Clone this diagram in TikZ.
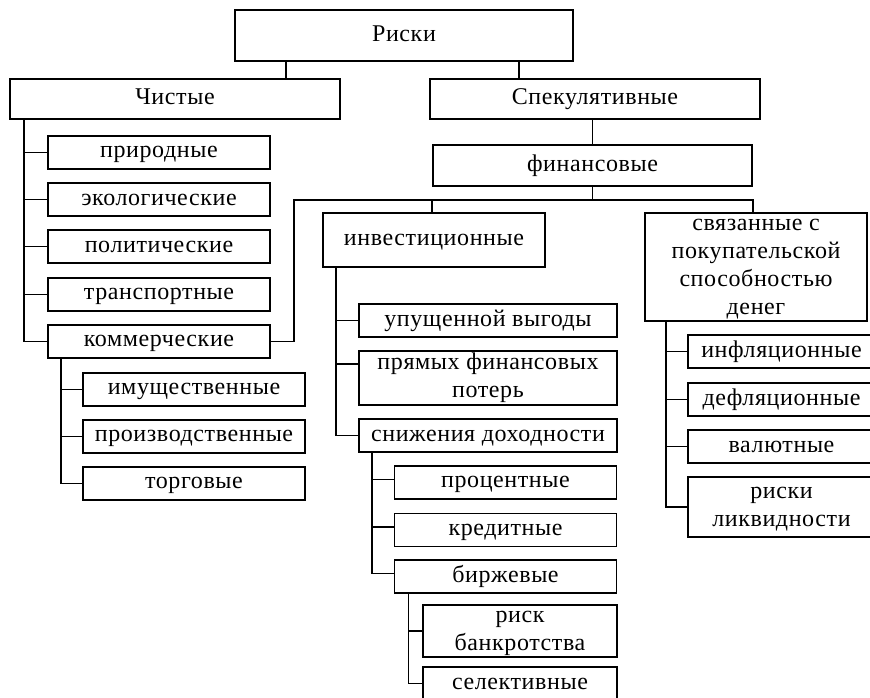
\documentclass[tikz,border=0pt]{standalone}
\usepackage{fontspec}
\setmainfont[LetterSpace=2.5]{Liberation Serif}
\usetikzlibrary{calc}
\newcommand{\wstrut}{\rule[-5pt]{0pt}{21pt}}

\begin{document}
\begin{tikzpicture}[x=1pt,y=-1pt,
 box/.style={draw,line width=1.8pt,inner sep=0pt,align=center,font=\fontsize{24}{28}\selectfont},
 main/.style={box,minimum width=330pt,minimum height=40pt},
 leaf/.style={box,minimum width=222pt,minimum height=33pt},
 wleaf/.style={box,minimum width=258pt,minimum height=33pt},
 bleaf/.style={box,minimum width=194pt,minimum height=33pt},
 rleaf/.style={box,minimum width=187pt,minimum height=33pt},
 thin/.style={line width=1.3pt},
 link/.style={line width=1.3pt}]
\clip (0,0) rectangle (870,697);
% top levels
\node[box,minimum width=338pt,minimum height=51pt] (riski) at (404,35.5) {\wstrut Риски};
\node[main] (chist) at (175,99) {\wstrut Чистые};
\node[main] (spek) at (595,99) {\wstrut Спекулятивные};
\node[box,minimum width=319pt,minimum height=41pt] (finan) at (592.5,165.5) {\wstrut финансовые};
% pure risks
\node[leaf] (prirod) at (159,152.5) {\wstrut природные};
\node[leaf] (ekolog) at (159,199.5) {\wstrut экологические};
\node[leaf] (polit) at (159,246.5) {\wstrut политические};
\node[leaf] (transp) at (159,294.5) {\wstrut транспортные};
\node[leaf] (kommer) at (159,341.5) {\wstrut коммерческие};
\node[leaf,thin] (imush) at (194,389.5) {\wstrut имущественные};
\node[leaf,thin] (proizv) at (194,436.5) {\wstrut производственные};
\node[leaf,thin] (torg) at (194,483.5) {\wstrut торговые};
% financial risks
\node[leaf,minimum height=54pt] (invest) at (434,240) {\wstrut инвестиционные};
\node[leaf,minimum height=108pt] (svyaz) at (756,267) {\wstrut связанные с\\покупательской\\способностью\\денег\wstrut};
\node[wleaf] (upush) at (488,320.5) {\wstrut упущенной выгоды};
\node[wleaf,minimum height=54pt] (pryam) at (488,378) {\wstrut прямых финансовых\\потерь\wstrut};
\node[wleaf] (snizh) at (488,435.5) {\wstrut снижения доходности};
\node[leaf] (procent) at (505.5,482.5) {\wstrut процентные};
\node[leaf] (kredit) at (505.5,530) {\wstrut кредитные};
\node[leaf] (birzh) at (505.5,576.5) {\wstrut биржевые};
\node[bleaf,minimum height=52pt] (bankrot) at (520,631) {\wstrut риск\\банкротства\wstrut};
\node[bleaf] (selekt) at (520,683.5) {\wstrut селективные};
\node[rleaf] (inflyac) at (781.5,351.5) {\wstrut инфляционные};
\node[rleaf] (deflyac) at (781.5,399.5) {\wstrut дефляционные};
\node[rleaf] (valyut) at (781.5,446.5) {\wstrut валютные};
\node[rleaf,minimum height=60pt] (likvid) at (781.5,507) {\wstrut риски\\ликвидности\wstrut};
% connectors
\draw[link] ([xshift=52pt]riski.south west) coordinate (r1) -- (r1 |- chist.north);
\draw[link] ([xshift=285pt]riski.south west) coordinate (r2) -- (r2 |- spek.north);
\draw[link] (finan.north) -- (finan.north |- spek.south);
\coordinate (fbar) at (294,200);
\draw[link] (finan.south) -- (finan.south |- fbar);
\draw[link] (kommer.east) -| (fbar) -- (fbar -| finan.east) -- (svyaz.north -| finan.east);
\draw[link] (finan.south west |- fbar) -- (invest.north -| finan.south west);
\coordinate (tc) at ([xshift=15pt]chist.south west);
\draw[link] (tc) |- (kommer.west);
\foreach \n in {prirod,ekolog,polit,transp}
  \draw[link] (tc |- \n.west) -- (\n.west);
\coordinate (tk) at ([xshift=14pt]kommer.south west);
\draw[link] (tk) |- (torg.west);
\foreach \n in {imush,proizv}
  \draw[link] (tk |- \n.west) -- (\n.west);
\coordinate (ti) at ([xshift=14pt]invest.south west);
\draw[link] (ti) |- (snizh.west);
\draw[link] (ti |- upush.west) -- (upush.west);
\draw[link] ([yshift=14pt]pryam.west) coordinate (pw) -- (pw -| ti);
\coordinate (ts) at ([xshift=14pt]snizh.south west);
\draw[link] (ts) |- ([yshift=3pt]birzh.west);
\foreach \n in {procent,kredit}
  \draw[link] ([yshift=3pt]\n.west) coordinate (e) -- (e -| ts);
\coordinate (tb) at ([xshift=15pt]birzh.south west);
\draw[link] (tb) |- (selekt.west);
\draw[link] (tb |- bankrot.west) -- (bankrot.west);
\coordinate (tv) at ([xshift=22pt]svyaz.south west);
\draw[link] (tv) |- (likvid.west);
\foreach \n in {inflyac,deflyac,valyut}
  \draw[link] (tv |- \n.west) -- (\n.west);
\end{tikzpicture}
\end{document}
